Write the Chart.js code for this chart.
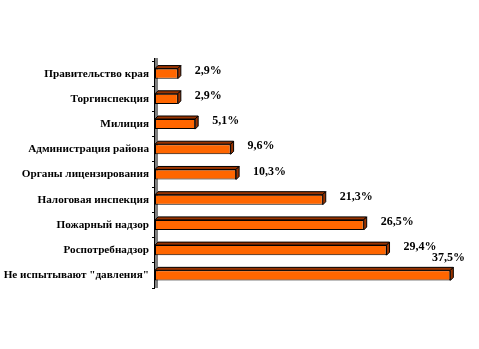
<!DOCTYPE html>
<html><head><meta charset="utf-8">
<script src="https://cdn.jsdelivr.net/npm/chart.js@4/dist/chart.umd.min.js"></script>
<style>html,body{margin:0;padding:0;background:#fff;}#wrap{width:479px;height:349px;}</style>
</head><body><div id="wrap"><canvas id="c" width="479" height="349"></canvas></div>
<script>
const categories = ["Правительство края","Торгинспекция","Милиция","Администрация района","Органы лицензирования","Налоговая инспекция","Пожарный надзор","Роспотребнадзор","Не испытывают \"давления\""];
const values = [2.9, 2.9, 5.1, 9.6, 10.3, 21.3, 26.5, 29.4, 37.5];
const valueLabels = ["2,9%","2,9%","5,1%","9,6%","10,3%","21,3%","26,5%","29,4%","37,5%"];

const FONT = "'Liberation Serif','Times New Roman',serif";
const D = 3; // 3D depth

const wallPlugin = {
  id: 'wall',
  beforeDatasetsDraw(chart) {
    const ctx = chart.ctx, a = chart.chartArea;
    ctx.save();
    ctx.fillStyle = '#808080';
    ctx.fillRect(a.left, a.top - D, D, a.bottom - a.top + D);
    ctx.strokeStyle = '#000';
    ctx.lineWidth = 1;
    ctx.beginPath();
    ctx.moveTo(a.left - 0.5, a.top - D);
    ctx.lineTo(a.left - 0.5, a.bottom);
    ctx.stroke();
    ctx.restore();
  }
};

const bar3d = {
  id: 'bar3d',
  afterDatasetsDraw(chart) {
    const ctx = chart.ctx;
    const meta = chart.getDatasetMeta(0);
    ctx.save();
    ctx.lineWidth = 1;
    ctx.strokeStyle = '#000';
    meta.data.forEach((el, i) => {
      const p = el.getProps(['x','y','base','height'], true);
      const x0 = p.base, x1 = p.x, top = p.y - p.height/2, bot = p.y + p.height/2;
      ctx.fillStyle = '#993300';
      ctx.beginPath();
      ctx.moveTo(x0, top); ctx.lineTo(x0 + D, top - D); ctx.lineTo(x1 + D, top - D); ctx.lineTo(x1, top); ctx.closePath();
      ctx.fill(); ctx.stroke();
      ctx.beginPath();
      ctx.moveTo(x1, top); ctx.lineTo(x1 + D, top - D); ctx.lineTo(x1 + D, bot - D); ctx.lineTo(x1, bot); ctx.closePath();
      ctx.fill(); ctx.stroke();
      ctx.fillStyle = '#000';
      ctx.font = "bold 12px " + FONT;
      ctx.textBaseline = 'middle';
      ctx.textAlign = 'left';
      const txt = valueLabels[i];
      const w = ctx.measureText(txt).width;
      let lx = x1 + D + 14, ly = p.y - 3;
      if (lx + w > chart.width - 12) { lx = chart.width - 14 - w; ly = top - D - 9; }
      ctx.fillText(txt, lx, ly);
    });
    ctx.restore();
  }
};

new Chart(document.getElementById('c'), {
  type: 'bar',
  data: {
    labels: categories,
    datasets: [{
      data: values,
      backgroundColor: '#FF6600',
      borderColor: '#000',
      borderWidth: 1,
      borderSkipped: false,
      barPercentage: 0.4,
      categoryPercentage: 1.0
    }]
  },
  options: {
    indexAxis: 'y',
    responsive: false,
    animation: false,
    devicePixelRatio: 1,
    layout: { padding: { left: 0, top: 61, bottom: 61, right: 9 } },
    plugins: { legend: { display: false }, tooltip: { enabled: false } },
    scales: {
      x: { display: false, min: 0, max: 40 },
      y: {
        afterFit(s) { s.width = 155; },
        border: { display: false },
        grid: { drawOnChartArea: false, drawTicks: true, tickLength: 3, color: '#000', offset: true },
        ticks: { color: '#000', padding: 3, font: { family: FONT, size: 11.2, weight: 'bold' } }
      }
    }
  },
  plugins: [wallPlugin, bar3d]
});
</script></body></html>
